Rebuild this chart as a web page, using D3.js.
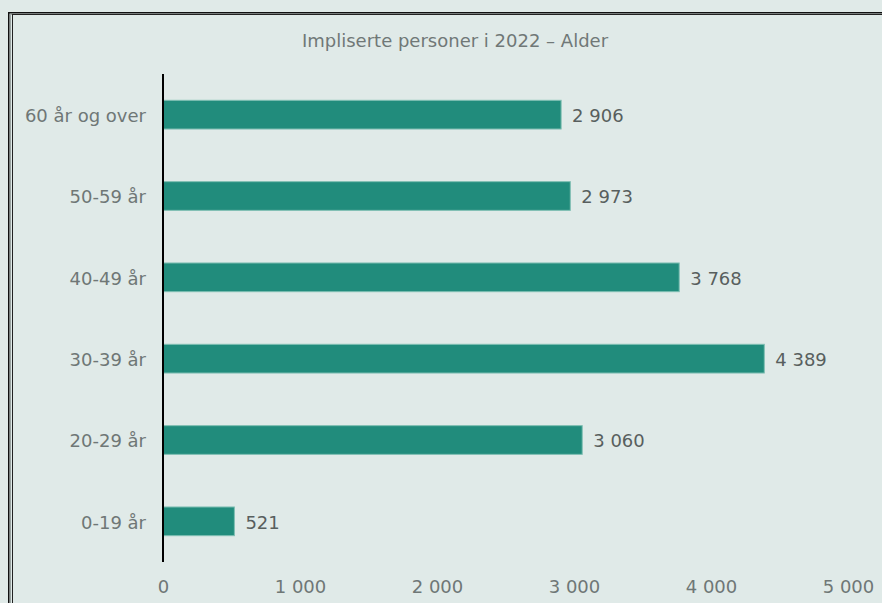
<!DOCTYPE html>
<html>
<head>
<meta charset="utf-8">
<script src="https://cdn.jsdelivr.net/npm/d3@7"></script>
<style>
  html, body { margin: 0; padding: 0; background: #e0eae8; }
  svg { display: block; }
</style>
</head>
<body>
<svg id="chart" width="882" height="603"></svg>
<script>
const title = "Impliserte personer i 2022 – Alder";
const categories = ["60 år og over", "50-59 år", "40-49 år", "30-39 år", "20-29 år", "0-19 år"];
const values = [2906, 2973, 3768, 4389, 3060, 521];
const tickValues = [0, 1000, 2000, 3000, 4000, 5000];

const fmt = v => d3.format(",")(v).replace(/,/g, " ");
const svg = d3.select("#chart");
const W = 882, H = 603;
const font = "'DejaVu Sans', Verdana, sans-serif";
const fs = 18;

svg.append("rect").attr("width", W).attr("height", H).attr("fill", "#e0eae8");

// frame (double border, extends past edges)
svg.append("rect").attr("x", 8.75).attr("y", 12.75).attr("width", 900).attr("height", 700)
  .attr("fill", "none").attr("stroke", "#111").attr("stroke-width", 1.5);
svg.append("rect").attr("x", 10.5).attr("y", 14.5).attr("width", 900).attr("height", 700)
  .attr("fill", "none").attr("stroke", "#9aa3a1").attr("stroke-width", 1);
svg.append("rect").attr("x", 12.5).attr("y", 14.5).attr("width", 900).attr("height", 700)
  .attr("fill", "none").attr("stroke", "#222").attr("stroke-width", 1);

const x = d3.scaleLinear().domain([0, 5000]).range([163, 848]);
const y = d3.scaleBand().domain(categories).range([74, 562])
  .paddingInner(0.647).paddingOuter(0.3235);

// title
svg.append("text").attr("x", 455).attr("y", 47)
  .attr("text-anchor", "middle").attr("font-family", font).attr("font-size", fs)
  .attr("fill", "#707877").text(title);

// bars
svg.selectAll("rect.bar").data(values).enter().append("rect").attr("class", "bar")
  .attr("x", x(0)).attr("y", (d, i) => y(categories[i]))
  .attr("width", d => x(d) - x(0)).attr("height", y.bandwidth())
  .attr("fill", "#218c7c").attr("stroke", "#7fbfb3").attr("stroke-width", 1);

// value labels
svg.selectAll("text.val").data(values).enter().append("text").attr("class", "val")
  .attr("x", d => x(d) + 11).attr("y", (d, i) => y(categories[i]) + y.bandwidth() / 2 + 1)
  .attr("dy", "0.35em").attr("font-family", font).attr("font-size", fs)
  .attr("fill", "#585f5e").text(d => fmt(d));

// y axis
const yAxis = svg.append("g").attr("transform", `translate(${x(0)},0)`)
  .call(d3.axisLeft(y).tickSize(0).tickPadding(17));
yAxis.select(".domain").remove();
yAxis.selectAll("text").attr("font-family", font).attr("font-size", fs).attr("fill", "#6f7776")
  .attr("dy", "0.4em");
svg.append("line").attr("x1", x(0)).attr("x2", x(0)).attr("y1", 74).attr("y2", 562)
  .attr("stroke", "#000").attr("stroke-width", 2);

// x axis
const xAxis = svg.append("g").attr("transform", "translate(0,580)")
  .call(d3.axisBottom(x).tickValues(tickValues).tickSize(0).tickPadding(0).tickFormat(fmt));
xAxis.select(".domain").remove();
xAxis.selectAll("text").attr("font-family", font).attr("font-size", fs).attr("fill", "#6f7776");
</script>
</body>
</html>
